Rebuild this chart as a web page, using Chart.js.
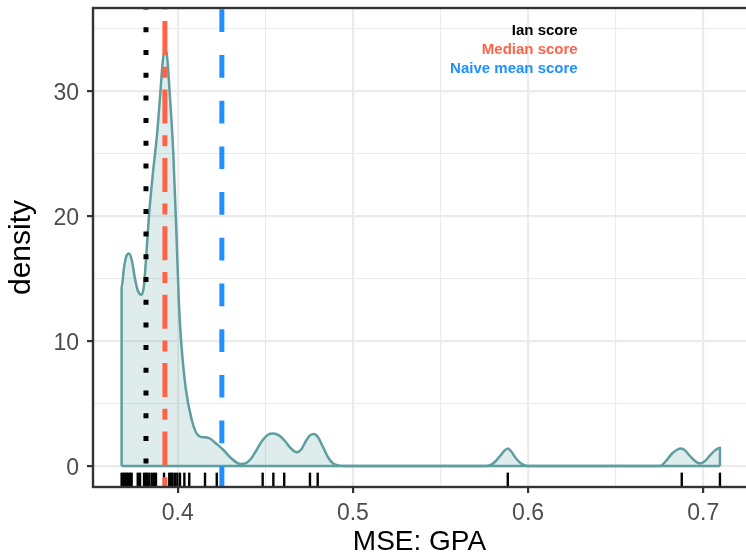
<!DOCTYPE html>
<html>
<head>
<meta charset="utf-8">
<title>MSE: GPA density</title>
<script src="https://cdn.jsdelivr.net/npm/chart.js@4.4.1/dist/chart.umd.min.js"></script>
<style>
    html, body { margin: 0; padding: 0; background: #ffffff; }
    #chartWrap { width: 746px; height: 556px; }
</style>
</head>
<body>
<div id="chartWrap"><canvas id="densityChart" width="746" height="556"></canvas></div>
<script>
// Kernel density of the MSE values (x) and its height (y)
const densityX = [
    0.3680, 0.3680, 0.3693, 0.3705, 0.3722, 0.3739, 0.3756, 0.3773, 0.3795,
    0.3808, 0.3819, 0.3836, 0.3859, 0.3882, 0.3899, 0.3916, 0.3927, 0.3939,
    0.3956, 0.3975, 0.3994, 0.4007, 0.4019, 0.4047, 0.4080, 0.4104, 0.4127,
    0.4156, 0.4184, 0.4219, 0.4260, 0.4299, 0.4337, 0.4356, 0.4385, 0.4413,
    0.4447, 0.4481, 0.4515, 0.4546, 0.4578, 0.4612, 0.4647, 0.4679, 0.4704,
    0.4732, 0.4755, 0.4778, 0.4801, 0.4830, 0.4858, 0.4887, 0.4915, 0.4955,
    0.5760, 0.5800, 0.5840, 0.5863, 0.5884, 0.5902, 0.5931, 0.5965, 0.5999,
    0.6753, 0.6787, 0.6822, 0.6850, 0.6873, 0.6896, 0.6924, 0.6953, 0.6981,
    0.7010, 0.7038, 0.7067, 0.7095, 0.7095,
];
const densityY = [
    0, 14.3, 15.8, 16.7, 17.0, 16.4, 15.0, 14.0, 13.7,
    14.5, 16.5, 20.0, 23.5, 26.5, 29.5, 32.5, 33.4, 32.8,
    29.5, 25.0, 18.1, 13.0, 10.1, 6.1, 3.7, 2.7, 2.35,
    2.3, 2.2, 1.8, 1.3, 0.7, 0.27, 0.16, 0.2, 0.5,
    1.2, 2.0, 2.5, 2.6, 2.45, 2.0, 1.4, 1.1, 1.3,
    2.0, 2.45, 2.56, 2.3, 1.5, 0.7, 0.2, 0.05, 0,
    0, 0.2, 0.8, 1.2, 1.4, 1.2, 0.6, 0.15, 0,
    0, 0.4, 1.0, 1.3, 1.4, 1.25, 0.8, 0.4, 0.2,
    0.4, 0.85, 1.25, 1.46, 0,
];

// One rug tick per model
const rugValues = [
    0.3680, 0.3690, 0.3699, 0.3709, 0.3718, 0.3728, 0.3737, 0.3772, 0.3785,
    0.3808, 0.3819, 0.3826, 0.3838, 0.3852, 0.3865, 0.3876, 0.3922, 0.3952,
    0.3962, 0.3971, 0.3985, 0.3998, 0.4013, 0.4038, 0.4066, 0.4156, 0.4223,
    0.4485, 0.4546, 0.4608, 0.4755, 0.4799, 0.5884, 0.6877, 0.7095,
];

// Reference scores
const scoreNames = ["Ian score", "Median score", "Naive mean score"];
const scoreValues = [0.3819, 0.3927, 0.4252];
const scoreColors = ["#000000", "#FF6347", "#1E90FF"];

// Axis ticks
const xMajorTicks = [0.4, 0.5, 0.6, 0.7];
const xMinorTicks = [0.45, 0.55, 0.65];
const yMajorTicks = [0, 10, 20, 30];
const yMinorTicks = [5, 15, 25, 35];

const xLimits = [0.35166, 0.72437];
const yLimits = [-1.68, 36.64];

const FONT = "'Liberation Sans', Arial, Helvetica, sans-serif";
const GRID = "#EBEBEB";
const DARK = "#333333";

function isMajor(value, majors) {
    return majors.some((m) => Math.abs(m - value) < 1e-9);
}

function toPoints(xs, ys) {
    return xs.map((x, i) => ({ x: x, y: ys[i] }));
}

function verticalLine(value) {
    return [
        { x: value, y: yLimits[1] },
        { x: value, y: yLimits[0] },
    ];
}

function buildScale(limits, majors, minors, axisTitle, fitSize, isX) {
    return {
        type: "linear",
        min: limits[0],
        max: limits[1],
        afterBuildTicks: (scale) => {
            scale.ticks = majors
                .concat(minors)
                .sort((a, b) => a - b)
                .map((v) => ({ value: v }));
        },
        afterFit: (scale) => {
            if (isX) {
                scale.height = fitSize;
                scale.paddingLeft = 0;
                scale.paddingRight = 0;
            } else {
                scale.width = fitSize;
                scale.paddingTop = 0;
                scale.paddingBottom = 0;
            }
        },
        border: { display: false },
        grid: {
            color: GRID,
            lineWidth: (ctx) =>
                ctx.tick && isMajor(ctx.tick.value, majors) ? 2.2 : 1.1,
            tickColor: (ctx) =>
                ctx.tick && isMajor(ctx.tick.value, majors)
                    ? DARK
                    : "rgba(0,0,0,0)",
            tickLength: 6,
            tickWidth: 2.2,
        },
        ticks: {
            autoSkip: false,
            maxRotation: 0,
            padding: isX ? 7 : 8,
            labelOffset: isX ? 0 : 2.5,
            color: "#4D4D4D",
            font: { family: FONT, size: 23 },
            callback: (value) => {
                if (!isMajor(value, majors)) {
                    return "";
                }
                return isX ? value.toFixed(1) : String(value);
            },
        },
        title: {
            display: true,
            text: axisTitle,
            color: "#000000",
            font: { family: FONT, size: isX ? 28 : 30, lineHeight: 1 },
            padding: isX ? { top: 0, bottom: 0 } : { top: 6.5, bottom: 0 },
        },
    };
}

// Rug, score labels and the panel frame
const panelDecorations = {
    id: "panelDecorations",
    beforeDatasetsDraw(chart) {
        const { ctx, chartArea, scales } = chart;
        const rugLength = 0.03 * (chartArea.bottom - chartArea.top);
        ctx.save();
        ctx.strokeStyle = "#000000";
        ctx.lineWidth = 2.4;
        rugValues.forEach((v) => {
            const px = scales.x.getPixelForValue(v);
            ctx.beginPath();
            ctx.moveTo(px, chartArea.bottom);
            ctx.lineTo(px, chartArea.bottom - rugLength);
            ctx.stroke();
        });
        ctx.restore();
    },
    afterDatasetsDraw(chart) {
        const { ctx, chartArea, scales } = chart;
        const labelX = scales.x.getPixelForValue(0.6283);
        const labelY = [34.8, 33.3, 31.8];
        ctx.save();
        ctx.font = "bold 15px " + FONT;
        ctx.textAlign = "right";
        ctx.textBaseline = "middle";
        scoreNames.forEach((name, i) => {
            ctx.fillStyle = scoreColors[i];
            ctx.fillText(name, labelX, scales.y.getPixelForValue(labelY[i]));
        });

        ctx.strokeStyle = DARK;
        ctx.lineWidth = 2.4;
        ctx.strokeRect(
            chartArea.left,
            chartArea.top,
            chartArea.right - chartArea.left + 4,
            chartArea.bottom - chartArea.top
        );
        ctx.restore();
    },
};

const lineStyles = [
    { dash: [5, 17.7], offset: 3.4 },
    { dash: [34, 11.7, 11, 11.7], offset: 55.3 },
    { dash: [22.7, 23], offset: 44.4 },
];

const scoreDatasets = scoreValues.map((value, i) => ({
    label: scoreNames[i],
    data: verticalLine(value),
    showLine: true,
    borderColor: scoreColors[i],
    borderWidth: 5,
    borderDash: lineStyles[i].dash,
    borderDashOffset: lineStyles[i].offset,
    borderCapStyle: "butt",
    pointRadius: 0,
    fill: false,
    order: 0,
}));

const densityPoints = toPoints(densityX, densityY);

const chart = new Chart(document.getElementById("densityChart"), {
    type: "scatter",
    data: {
        datasets: [
            ...scoreDatasets,
            {
                label: "baseline",
                data: [
                    { x: densityX[0], y: 0 },
                    { x: densityX[densityX.length - 1], y: 0 },
                ],
                showLine: true,
                borderColor: "#5F9EA0",
                borderWidth: 2.5,
                pointRadius: 0,
                fill: false,
                order: 5,
            },
            {
                label: "density",
                data: densityPoints,
                showLine: true,
                borderColor: "#5F9EA0",
                backgroundColor: "rgba(95, 158, 160, 0.2)",
                borderWidth: 2.5,
                borderJoinStyle: "round",
                cubicInterpolationMode: "monotone",
                pointRadius: 0,
                fill: "origin",
                order: 6,
            },
        ],
    },
    options: {
        responsive: false,
        animation: false,
        devicePixelRatio: 1,
        layout: { padding: { top: 8, right: 0, bottom: 0, left: 0 } },
        plugins: {
            legend: { display: false },
            tooltip: { enabled: false },
        },
        scales: {
            x: buildScale(xLimits, xMajorTicks, xMinorTicks, "MSE: GPA", 69, true),
            y: buildScale(yLimits, yMajorTicks, yMinorTicks, "density", 93, false),
        },
    },
    plugins: [panelDecorations],
});
</script>
</body>
</html>
